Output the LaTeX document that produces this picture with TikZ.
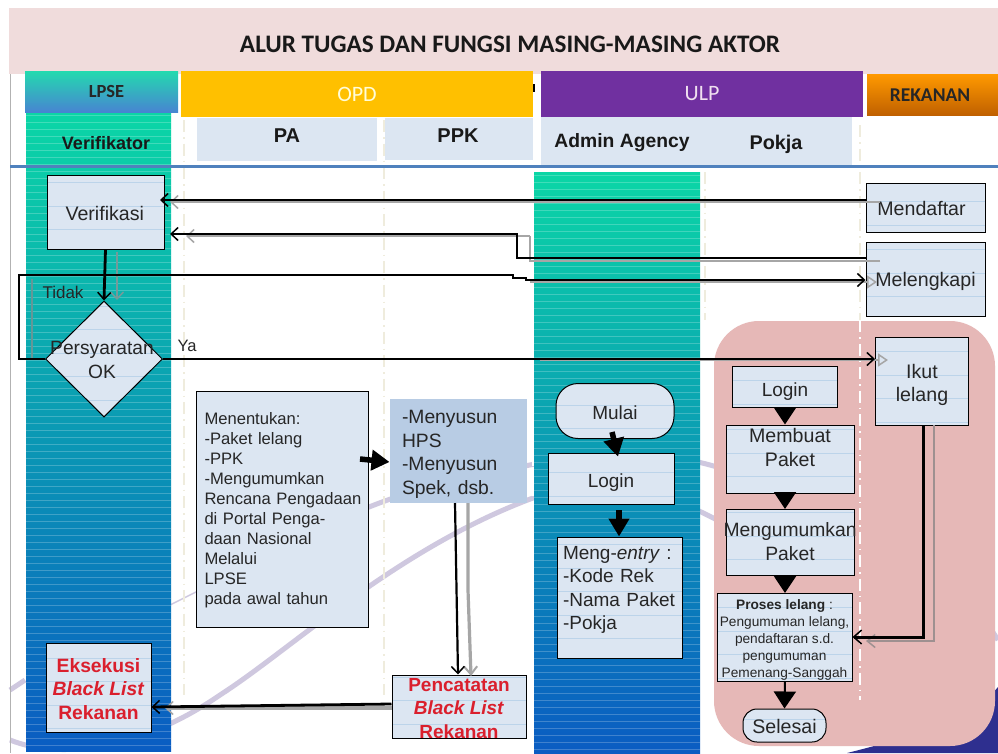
\documentclass[tikz,border=0pt]{standalone}
\usepackage{fontspec}
\setmainfont{Liberation Sans}
\newfontfamily\calib{Carlito}
\usetikzlibrary{arrows.meta,shapes.geometric}
\definecolor{pinkhead}{HTML}{F0DCDC}
\definecolor{boxfill}{HTML}{DCE6F2}
\definecolor{pinkarea}{HTML}{E6B8B7}
\definecolor{swoosh}{HTML}{CFC8DF}
\definecolor{navy}{HTML}{2E2F8F}
\definecolor{dashc}{HTML}{EFECDD}
\definecolor{redtxt}{HTML}{DA1F2D}
\definecolor{shadowgray}{HTML}{A6A6A6}
\definecolor{stripeline}{HTML}{BCD4EA}
\definecolor{teal1}{HTML}{0BD6A6}
\definecolor{teal2}{HTML}{03A0AA}
\definecolor{blue1}{HTML}{0A5CC2}
\newcommand{\zt}[2][-3pt]{\raisebox{#1}[0pt][0pt]{\makebox[0pt]{\begin{tabular}[c]{@{}c@{}}#2\end{tabular}}}}
\newcommand{\fs}[2]{\fontsize{#1}{#2}\selectfont}
\tikzset{
  boxbase/.style={draw=black,line width=1pt,fill=boxfill,inner sep=0pt,align=center,text=black!85,
     font=\fs{19.6}{23.5}},
  linesbox/.style={boxbase,path picture={\foreach \k in {-4,...,4}{\draw[stripeline,line width=.5pt]
     ([yshift=\k*23.5pt+6pt]path picture bounding box.west) -- ([yshift=\k*23.5pt+6pt]path picture bounding box.east);}}},
  pill/.style={linesbox,rounded corners=#1},
  headbar/.style={inner sep=0pt,align=center},
  subhead/.style={inner sep=0pt,text=black!90},
  colgrad/.style={top color=teal1,middle color=teal2,bottom color=blue1,draw=none},
  dashv/.style={draw=dashc,line width=2pt,dash pattern=on 12pt off 5pt on 1.5pt off 5pt},
  mainline/.style={draw=black,line width=2.8pt},
  shadowline/.style={draw=shadowgray,line width=2.2pt},
  barb/.style={-{Straight Barb[length=7pt,width=13pt,line width=1.5pt]}},
  thicktip/.style={line width=5.5pt,draw=black,-{Triangle[length=18pt,width=20pt]}},
  stemtip/.style={line width=2pt,draw=black,-{Triangle[length=17pt,width=22pt]}},
  labeltxt/.style={inner sep=0pt,text=black!85},
}
\begin{document}
\begin{tikzpicture}[x=1pt,y=-1pt]
\useasboundingbox (0,0) rectangle (998,753);
\fill[white] (0,0) rectangle (998,753);
% navy corner + swooshes
\fill[navy] (847,753) .. controls (920,735) and (975,715) .. (998,687) -- (998,753) -- cycle;
\draw[swoosh,line width=5pt] (10,740) .. controls (60,760) and (140,750) .. (220,695) .. controls (290,650) and (390,555) .. (520,503) .. controls (600,470) and (660,490) .. (717,520);
\draw[swoosh,line width=5pt] (717,467) .. controls (660,450) and (600,450) .. (520,467) .. controls (450,480) and (390,495) .. (340,520);
\draw[swoosh,line width=1.5pt] (340,520) .. controls (280,550) and (230,575) .. (170,605);
\draw[swoosh,line width=5pt] (10,690) -- (25,680);
\draw[swoosh,line width=5pt] (985,620) -- (998,640);
% header
\fill[pinkhead] (9,8) rectangle (998,74);
\draw[gray!60,line width=1pt] (10,74) -- (10,753);
% columns
\path[colgrad] (26,112) rectangle (171,751);
\foreach \yy in {115,122,...,751}{\draw[white,opacity=.22,line width=1pt] (26,\yy) -- (171,\yy);}
\path[colgrad] (534,172) rectangle (700,753);
\foreach \yy in {175,182,...,753}{\draw[white,opacity=.22,line width=1pt] (534,\yy) -- (700,\yy);}
% pink area
\fill[pinkarea,rounded corners=45pt] (714,321) rectangle (995,746);
% dashed lanes
\draw[dashv] (184,120) -- (184,695);
\draw[dashv] (384,120) -- (384,695);
\draw[dashv] (705,172) -- (705,320);
\draw[dashv,draw=white] (533,172) -- (533,745);
\draw[dashv] (860,125) -- (860,320);
\draw[dashv,draw=white] (860,320) -- (860,700);
% header bars
\node[headbar,minimum width=153pt,minimum height=41pt,top color=teal1!90!white,bottom color=blue1!75!white,font=\calib\fs{18.5}{20}\bfseries,text=black!85] (lpse) at (101.5,91.5) {\hspace*{10pt}LPSE};
\node[headbar,fill={rgb,255:red,255;green,192;blue,0},minimum width=352pt,minimum height=46pt,font=\calib\fs{22}{24},text=yellow!15!white] (opd) at (357,94) {OPD};
\node[headbar,fill={rgb,255:red,112;green,48;blue,160},minimum width=322pt,minimum height=46pt,font=\calib\fs{22}{24},text=violet!12!white] (ulp) at (702,94) {ULP};
\node[headbar,top color=orange!80!yellow,bottom color=orange!75!black,minimum width=131pt,minimum height=41pt,font=\calib\fs{19.5}{22}\bfseries,text=black!85] (rek) at (932.5,95) {\hspace*{-5pt}REKANAN};
\fill[black] (532.5,84) rectangle (534.5,92);
\fill[boxfill] (197,118) rectangle (377,161);
\fill[boxfill] (385,118) rectangle (533,160);
\fill[boxfill] (541,117) rectangle (852,165);
\node[subhead,font=\fs{18}{20}\bfseries] (verifk) at (106,143) {Verifikator};
\node[subhead,font=\fs{20}{22}\bfseries] (pa) at (287,136) {PA};
\node[subhead,font=\fs{20}{22}\bfseries] (ppk) at (458,136) {PPK};
\node[subhead,font=\fs{19.3}{22}\bfseries] (admin) at (622,143) {Admin Agency};
\node[subhead,font=\fs{19.8}{22}\bfseries] (pokjah) at (776,144) {Pokja};
\node[inner sep=0pt,font=\calib\fs{25.2}{28}\bfseries,text=black!90] (title) at (510,44) {ALUR TUGAS DAN FUNGSI MASING-MASING AKTOR};
\draw[draw={rgb,255:red,79;green,129;blue,189},line width=3pt] (10,166.5) -- (998,166.5);
% boxes
\node[linesbox,minimum width=117pt,minimum height=74pt] (verif) at (105.5,212) {\kern-1.5pt\zt[-9pt]{Verifikasi}};
\node[linesbox,diamond,aspect=1,minimum width=117pt,minimum height=116pt,font=\fs{19.2}{23.5}] (syarat) at (104,359) {\kern-4pt\zt[-8pt]{Persyaratan\\OK}};
\node[linesbox,minimum width=119pt,minimum height=49pt] (mend) at (925.5,207.5) {\kern-8pt\zt[-8.5pt]{Mendaftar}};
\node[linesbox,minimum width=119pt,minimum height=74pt] (mel) at (925.5,279) {\zt[-8pt]{Melengkapi}};
\node[linesbox,minimum width=93pt,minimum height=88pt] (ikut) at (922,381) {\zt[-9.5pt]{Ikut\\lelang}};
\node[boxbase,minimum width=172pt,minimum height=236pt,font=\fs{16.6}{20},text width=156pt,inner xsep=8pt,align=left] (tentu) at (282.5,509) {\rule{0pt}{15pt}Menentukan:\\-Paket lelang\\-PPK\\-Mengumumkan\\\mbox{Rencana Pengadaan}\\di Portal Penga-\\daan Nasional\\Melalui\\LPSE\\pada awal tahun};
\node[boxbase,draw=none,fill={rgb,255:red,184;green,204;blue,228},minimum width=133pt,minimum height=104pt,text width=113pt,inner xsep=12pt,align=left,font=\fs{19.3}{23.5}] (susun) at (458.5,451) {\rule{0pt}{20pt}-Menyusun\\HPS\\-Menyusun\\Spek, dsb.};
\node[linesbox,minimum width=134pt,minimum height=63pt,text=redtxt,font=\fs{19}{23.5}\bfseries] (catat) at (459,706.5) {\zt[-8pt]{Pencatatan\\\textit{Black List}\\Rekanan}};
\node[linesbox,minimum width=105pt,minimum height=89pt,text=redtxt,font=\fs{19.3}{23.5}\bfseries] (eks) at (98.5,687.5) {\zt[-8.5pt]{Eksekusi\\\textit{Black List}\\Rekanan}};
\node[pill=22pt,minimum width=118pt,minimum height=55pt,font=\fs{19}{23.5}] (mulai) at (615,411) {\zt[-8pt]{Mulai}};
\node[linesbox,minimum width=126pt,minimum height=51pt,font=\fs{19}{23.5}] (login1) at (611,478.5) {\zt[-8.5pt]{Login}};
\node[linesbox,minimum width=125pt,minimum height=121pt,text width=113pt,inner xsep=6pt,align=left,font=\fs{19}{23.5}] (entry) at (619.5,597.5) {\rule{0pt}{17pt}Meng-\textit{entry} :\\-Kode Rek\\-Nama Paket\\-Pokja\\\mbox{}};
\node[linesbox,minimum width=105pt,minimum height=41pt,font=\fs{19}{23.5}] (login2) at (785,386.5) {\zt[-9.5pt]{Login}};
\node[linesbox,minimum width=128pt,minimum height=68pt] (buat) at (790,459) {Membuat\\Paket\\\mbox{}};
\node[linesbox,minimum width=128pt,minimum height=66pt,font=\fs{19.3}{23.5}] (umum) at (790,542) {\zt[-7pt]{Mengumumkan\\Paket}};
\node[linesbox,minimum width=135pt,minimum height=88pt,font=\fs{13.7}{17}] (proses) at (784.5,637) {\rule{0pt}{16pt}\textbf{Proses lelang} :\\Pengumuman lelang,\\pendaftaran s.d.\\pengumuman\\Pemenang-Sanggah};
\node[pill=14pt,minimum width=83pt,minimum height=33pt] (selesai) at (784.5,725.5) {\zt[-8pt]{Selesai}};
\node[labeltxt,font=\fs{17}{20}] (tidak) at (63,292) {Tidak};
\node[labeltxt,font=\fs{16.5}{20}] (ya) at (187,346) {Ya};
% free ends
\coordinate (v1) at (160,200);
\coordinate (v1g) at (170,202);
\coordinate (v2) at (170,234);
\coordinate (v2g) at (186,236);
% connectors: shadows first
\draw[shadowline,barb] (880,202) -- (v1g);
\draw[shadowline] (880,261) -- (530,261) -- (530,236);
\draw[shadowline,barb] (530,236) -- (v2g);
\draw[draw=shadowgray!70!teal,line width=2pt,barb] (117,252) -- (117,300);
\draw[draw=shadowgray!60!teal,line width=2.5pt] (32,279) -- (32,358);
\draw[shadowline,-{Triangle[open,length=10pt,width=13pt,line width=1.5pt]}] (530,282) -- (877,282);
\draw[shadowline,-{Triangle[open,length=10pt,width=13pt,line width=1.5pt]}] (540,360) -- (888,360);
\draw[draw=shadowgray,line width=3.2pt,-{Straight Barb[length=8pt,width=13pt,line width=2pt]}] (468,503) -- (468,590) -- (471,676);
\draw[draw=shadowgray,line width=3.2pt,barb] (catat.west |- 0,708) -- (345,708) -- (165,708);
\draw[draw=gray!70!pinkarea,line width=2.2pt,-{Straight Barb[length=8pt,width=13pt,line width=1.5pt]}] (934,425) -- (934,641) -- (866,641);
% main lines
\draw[mainline,barb] (mend.west |- 0,200) -- (v1);
\draw[mainline,barb] (mel.west |- 0,258) -- (517,258) -- (517,234) -- (v2);
\draw[mainline,barb] (verif.south) -- (syarat.north);
\draw[mainline,barb] (syarat.west) -- (19,359) -- (19,275) -- (513,275) -- (513,278) -- (526,278) -- (526,280) -- (mel.west |- 0,280);
\draw[mainline,barb] (syarat.east) -- (ikut.west |- syarat.east);
\draw[thicktip] (360,459) -- (susun.west |- 0,462);
\draw[line width=2.2pt,draw=black,barb] (455,503) -- (catat.north -| 458,0);
\draw[mainline,barb] (catat.west |- 0,704) -- (eks.east |- 0,707);
\draw[line width=3pt,draw=black,-{Straight Barb[length=8pt,width=14pt,line width=1.5pt]}] (ikut.south -| 923,0) -- (923,637) -- (proses.east |- 0,637);
\draw[thicktip] (612,432) -- ([yshift=-4pt]login1.north -| 618,0);
\draw[thicktip] (619,510) -- (entry.north -| 619,0);
\draw[stemtip] (login2.south) -- (buat.north -| login2.south);
\draw[stemtip] (785,493) -- (785,509);
\draw[stemtip] (785,575) -- (785,593);
\draw[stemtip] (785,681) -- (selesai.north);
\end{tikzpicture}
\end{document}
